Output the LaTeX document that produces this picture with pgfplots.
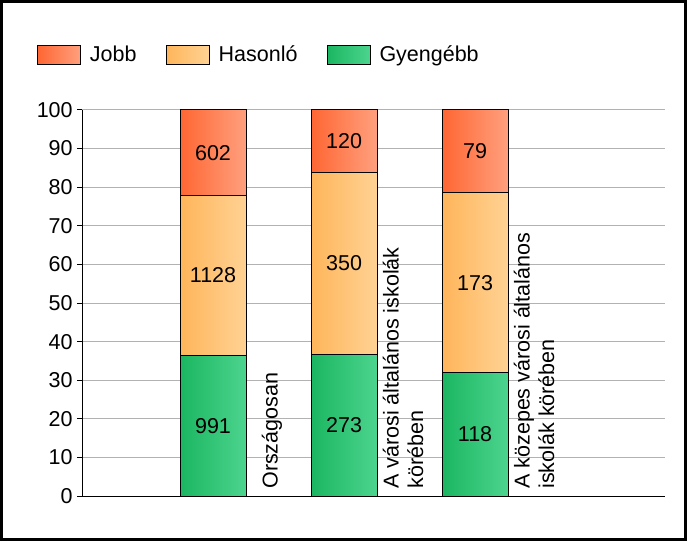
\documentclass[border=0pt]{standalone}
\usepackage{pgfplots}
\pgfplotsset{compat=1.18}
\usepackage{fontspec}
\setmainfont{Liberation Sans}
\definecolor{jL}{HTML}{FF6633}
\definecolor{jR}{HTML}{FFA07E}
\definecolor{hL}{HTML}{FFB55A}
\definecolor{hR}{HTML}{FFD294}
\definecolor{gL}{HTML}{1BB661}
\definecolor{gR}{HTML}{4CD48E}
\pgfplotsset{
  frameaxis/.style={at={(82pt,45pt)}, anchor=south west, scale only axis,
    width=583pt, height=386pt, xmin=-1, xmax=3.45, ymin=0, ymax=100},
  legbox/.style={legend image code/.code={\draw[##1] (0pt,-9.5pt) rectangle (43pt,9.5pt);}},
  jobb/.style={legbox, ybar, bar shift=0pt, draw=black, line width=1pt, left color=jL, right color=jR},
  hason/.style={legbox, ybar, bar shift=0pt, draw=black, line width=1pt, left color=hL, right color=hR},
  gyen/.style={legbox, ybar, bar shift=0pt, draw=black, line width=1pt, left color=gL, right color=gR},
}
\begin{document}
\fontsize{21.5}{24.5}\selectfont
\begin{tikzpicture}[font=\fontsize{21.5}{24.5}\selectfont]
\useasboundingbox (0,0) rectangle (687pt,541pt);
\draw[line width=2.6pt] (1.3pt,1.3pt) rectangle (685.7pt,539.7pt);
\begin{axis}[frameaxis,
  ybar, bar width=66pt,
  ytick={0,10,...,100}, ymajorgrids, major grid style={draw=gray!60, line width=1pt},
  axis lines*=left, axis line style={black, line width=1pt},
  xtick={0.45,1.45,2.45},
  xticklabels={Országosan,{A városi általános iskolák\\körében},{A közepes városi általános\\iskolák körében}},
  xticklabel style={yshift=5pt, rotate=90, anchor=west, align=left},
  yticklabel style={xshift=3pt},
  x tick style={draw=none}, y tick style={black, line width=1pt},
  tick align=outside, major tick length=5pt,
  /pgf/number format/assume math mode=true,
  legend columns=-1,
  legend style={draw=none, fill=none, inner sep=0pt, outer sep=0pt,
    at={(axis description cs:-0.0772,1.1425)}, anchor=west,
    nodes={inner xsep=9pt, inner ysep=0pt},
    /tikz/every even column/.append style={column sep=20pt}},
]
% cumulative shares (per cent); counts: Jobb 602/120/79, Hasonlo 1128/350/173, Gyengebb 991/273/118
\addplot[jobb]  coordinates {(0,100)};
\addplot[hason] coordinates {(0,77.875)};
\addplot[gyen]  coordinates {(0,36.420)};
\addplot[jobb, forget plot]  coordinates {(1,100)};
\addplot[hason, forget plot] coordinates {(1,83.849)};
\addplot[gyen, forget plot]  coordinates {(1,36.743)};
\addplot[jobb, forget plot]  coordinates {(2,100)};
\addplot[hason, forget plot] coordinates {(2,78.649)};
\addplot[gyen, forget plot]  coordinates {(2,31.892)};
\legend{Jobb,Hasonló,Gyengébb}
\end{axis}
\begin{axis}[frameaxis, hide axis]
\addplot[draw=none, mark=none, nodes near coords, point meta=explicit symbolic,
  every node near coord/.append style={anchor=center}]
  coordinates {(0,18.21) [991] (0,57.15) [1128] (0,88.94) [602]
               (1,18.37) [273] (1,60.30) [350] (1,91.92) [120]
               (2,15.95) [118] (2,55.27) [173] (2,89.32) [79]};
\end{axis}
\end{tikzpicture}
\end{document}
